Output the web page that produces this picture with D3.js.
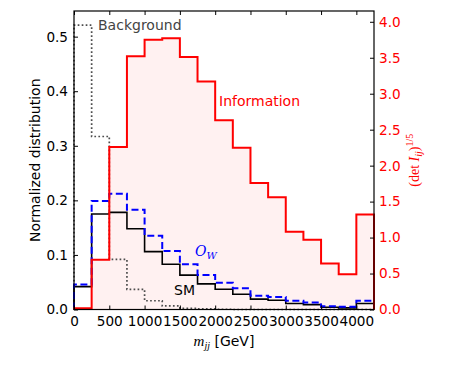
<!DOCTYPE html>
<html>
<head>
<meta charset="utf-8">
<script src="https://cdn.jsdelivr.net/npm/d3@7"></script>
<style>
  body { margin: 0; background: #fff; }
  text { font-family: "DejaVu Sans", sans-serif; }
</style>
</head>
<body>
<script>
// bin edges of m_jj [GeV]
const edges = [0, 250, 500, 750, 1000, 1250, 1500, 1750, 2000, 2250, 2500,
               2750, 3000, 3250, 3500, 3750, 4000, 4250];

// normalized distributions (left axis)
const background = [0.521, 0.317, 0.092, 0.037, 0.016, 0.0065, 0.002, 0.001, 0.0005,
                    0, 0, 0, 0, 0, 0, 0, 0];
const sm = [0.042, 0.175, 0.178, 0.148, 0.106, 0.083, 0.063, 0.047, 0.037,
            0.028, 0.019, 0.017, 0.011, 0.009, 0.004, 0.003, 0.011];
const ow = [0.046, 0.199, 0.212, 0.183, 0.135, 0.107, 0.083, 0.063, 0.049,
            0.039, 0.025, 0.023, 0.016, 0.013, 0.006, 0.005, 0.016];

// information (right axis)
const information = [0.017, 0.69, 2.26, 3.52, 3.75, 3.77, 3.51, 3.17, 2.63,
                     2.25, 1.76, 1.56, 1.08, 0.97, 0.64, 0.49, 1.32];

const xTicks = [0, 500, 1000, 1500, 2000, 2500, 3000, 3500, 4000];
const leftTicks = [0.0, 0.1, 0.2, 0.3, 0.4, 0.5];
const rightTicks = [0.0, 0.5, 1.0, 1.5, 2.0, 2.5, 3.0, 3.5, 4.0];

const W = 449, H = 374;
const plot = {left: 74, right: 374, top: 11, bottom: 309.5};

const svg = d3.select("body").append("svg")
    .attr("width", W)
    .attr("height", H);

const x = d3.scaleLinear().domain([0, 4250]).range([plot.left, plot.right]);
const yL = d3.scaleLinear().domain([0, 0.547]).range([plot.bottom, plot.top]);
const yR = d3.scaleLinear().domain([0, 4.15]).range([plot.bottom, plot.top]);

// histogram outline as step points
function steps(vals) {
    let pts = [[edges[0], 0]];
    vals.forEach((v, i) => {
        pts.push([edges[i], v]);
        pts.push([edges[i + 1], v]);
    });
    pts.push([edges[edges.length - 1], 0]);
    return pts;
}

const lineL = d3.line().x(d => x(d[0])).y(d => yL(d[1]));
const lineR = d3.line().x(d => x(d[0])).y(d => yR(d[1]));
const areaR = d3.area().x(d => x(d[0])).y0(yR(0)).y1(d => yR(d[1]));

// pink fill under the information curve
svg.append("path")
    .attr("d", areaR(steps(information)))
    .attr("fill", "red")
    .attr("fill-opacity", 0.055);

svg.append("path")
    .attr("d", lineL(steps(background)))
    .attr("fill", "none")
    .attr("stroke", "#4d4d4d")
    .attr("stroke-width", 1.7)
    .attr("stroke-dasharray", "1.7,2.3");

svg.append("path")
    .attr("d", lineL(steps(sm)))
    .attr("fill", "none")
    .attr("stroke", "#000")
    .attr("stroke-width", 1.6);

svg.append("path")
    .attr("d", lineL(steps(ow)))
    .attr("fill", "none")
    .attr("stroke", "#0000ff")
    .attr("stroke-width", 2)
    .attr("stroke-dasharray", "7,3.5");

svg.append("path")
    .attr("d", lineR(steps(information)))
    .attr("fill", "none")
    .attr("stroke", "#ff0000")
    .attr("stroke-width", 2);

// axes, ticks pointing inward
function styleAxis(g, color) {
    g.select(".domain").remove();
    g.selectAll("line").attr("stroke", "#000").attr("stroke-width", 1);
    g.selectAll("text")
        .attr("fill", color)
        .style("font-family", "'DejaVu Sans', sans-serif")
        .style("font-size", "13.6px");
}

svg.append("g")
    .attr("transform", `translate(0,${plot.bottom})`)
    .call(d3.axisBottom(x).tickValues(xTicks).tickSize(-4).tickPadding(7)
        .tickFormat(d3.format("d")))
    .call(g => styleAxis(g, "#000"));

svg.append("g")
    .attr("transform", `translate(0,${plot.top})`)
    .call(d3.axisTop(x).tickValues(xTicks).tickSize(-4).tickFormat(""))
    .call(g => styleAxis(g, "#000"));

svg.append("g")
    .attr("transform", `translate(${plot.left},0)`)
    .call(d3.axisLeft(yL).tickValues(leftTicks).tickSize(-4).tickPadding(6)
        .tickFormat(d3.format(".1f")))
    .call(g => styleAxis(g, "#000"));

svg.append("g")
    .attr("transform", `translate(${plot.right},0)`)
    .call(d3.axisRight(yR).tickValues(rightTicks).tickSize(-4).tickPadding(5)
        .tickFormat(d3.format(".1f")))
    .call(g => styleAxis(g, "#ff0000"));

// frame
svg.append("rect")
    .attr("x", plot.left)
    .attr("y", plot.top)
    .attr("width", plot.right - plot.left)
    .attr("height", plot.bottom - plot.top)
    .attr("fill", "none")
    .attr("stroke", "#000")
    .attr("stroke-width", 1.2);

// labels inside the plot
svg.append("text")
    .attr("x", 98).attr("y", 29.5)
    .attr("fill", "#444")
    .style("font-size", "14px")
    .text("Background");

svg.append("text")
    .attr("x", 219).attr("y", 106)
    .attr("fill", "#ff0000")
    .style("font-size", "14px")
    .text("Information");

svg.append("text")
    .attr("x", 174).attr("y", 295)
    .attr("fill", "#000")
    .style("font-size", "14px")
    .text("SM");

let ow_label = svg.append("text")
    .attr("x", 195).attr("y", 256)
    .attr("fill", "#0000ff")
    .style("font-family", "'DejaVu Serif', serif")
    .style("font-style", "italic")
    .style("font-size", "14px");
ow_label.append("tspan").text("O");
ow_label.append("tspan").attr("dy", 3).style("font-size", "10px").text("W");

// axis titles
let xlab = svg.append("text")
    .attr("x", 224).attr("y", 346)
    .attr("text-anchor", "middle")
    .attr("fill", "#000")
    .style("font-size", "14px");
xlab.append("tspan")
    .style("font-family", "'Liberation Serif', serif")
    .style("font-style", "italic")
    .style("font-size", "15px")
    .text("m");
xlab.append("tspan")
    .attr("dy", 3)
    .style("font-family", "'Liberation Serif', serif")
    .style("font-style", "italic")
    .style("font-size", "10px")
    .text("jj");
xlab.append("tspan")
    .attr("dy", -3)
    .text(" [GeV]");

svg.append("text")
    .attr("transform", `translate(40,${(plot.top + plot.bottom) / 2}) rotate(-90)`)
    .attr("text-anchor", "middle")
    .attr("fill", "#000")
    .style("font-size", "14px")
    .text("Normalized distribution");

let rlab = svg.append("text")
    .attr("transform", `translate(419,${(plot.top + plot.bottom) / 2}) rotate(-90)`)
    .attr("text-anchor", "middle")
    .attr("fill", "#ff0000")
    .style("font-family", "'Liberation Serif', serif")
    .style("font-size", "14px");
rlab.append("tspan").text("(det ");
rlab.append("tspan").style("font-style", "italic").text("I");
rlab.append("tspan").attr("dy", 3).style("font-style", "italic").style("font-size", "10px").text("ij");
rlab.append("tspan").attr("dy", -3).text(")");
rlab.append("tspan").attr("dy", -6).style("font-size", "10px").text("1/5");
</script>
</body>
</html>
